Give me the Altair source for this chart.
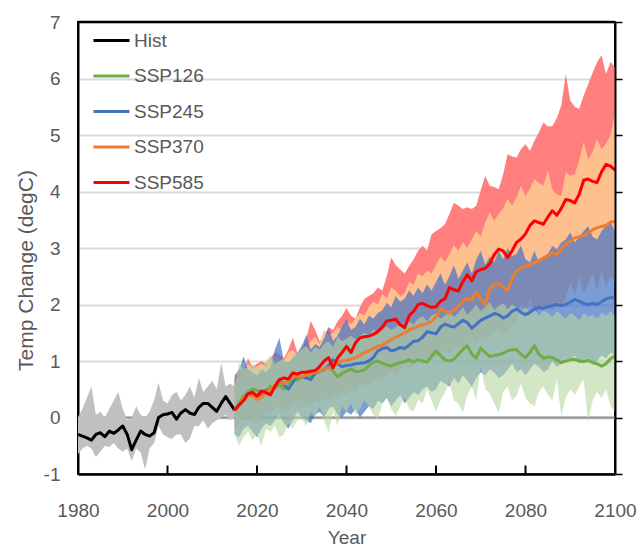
import altair as alt
import pandas as pd

# ---------------- data ----------------
hist_years = list(range(1980, 2016))
ssp_years = list(range(2015, 2101))

hist_mean = [-0.30, -0.33, -0.36, -0.40, -0.30, -0.27, -0.34, -0.24, -0.28, -0.22,
             -0.15, -0.30, -0.57, -0.40, -0.24, -0.30, -0.33, -0.27, 0.00, 0.05,
             0.06, 0.09, -0.03, 0.08, 0.14, 0.08, 0.05, 0.18, 0.25, 0.25,
             0.18, 0.11, 0.25, 0.37, 0.25, 0.13]
hist_hi = [0.00, 0.15, 0.35, 0.55, 0.05, 0.10, 0.00, 0.15, 0.30, 0.45,
           0.15, -0.05, 0.00, 0.20, 0.05, 0.00, 0.10, 0.30, 0.62, 0.30,
           0.25, 0.40, 0.45, 0.30, 0.40, 0.55, 0.35, 0.70, 0.45, 0.55,
           0.65, 0.50, 0.97, 0.55, 0.60, 0.55]
hist_lo = [-0.65, -0.55, -0.50, -0.55, -0.70, -0.60, -0.50, -0.52, -0.45, -0.55,
           -0.60, -0.55, -0.77, -0.55, -0.62, -0.92, -0.55, -0.45, -0.15, -0.30,
           -0.35, -0.38, -0.30, -0.30, -0.45, -0.37, -0.15, -0.15, -0.05, -0.20,
           -0.10, -0.05, 0.00, 0.05, -0.05, 0.00]

ssp126_mean = [0.13, 0.25, 0.38, 0.45, 0.50, 0.48, 0.44, 0.48, 0.55, 0.52,
               0.58, 0.50, 0.58, 0.70, 0.66, 0.72, 0.75, 0.72, 0.78, 0.82,
               0.85, 0.90, 0.82, 0.72, 0.78, 0.82, 0.86, 0.81, 0.82, 0.84,
               0.92, 0.98, 1.00, 0.96, 0.93, 0.91, 0.95, 0.97, 0.99, 1.02,
               0.98, 1.02, 1.00, 0.98, 1.08, 1.18, 1.10, 1.02, 1.00, 1.03,
               1.12, 1.20, 1.27, 1.12, 1.05, 1.23, 1.15, 1.08, 1.10, 1.11,
               1.14, 1.18, 1.20, 1.20, 1.12, 1.06, 1.15, 1.27, 1.12, 1.05,
               1.07, 1.06, 1.02, 0.97, 1.00, 1.02, 1.03, 1.00, 0.99, 1.01,
               0.97, 0.95, 0.91, 0.95, 1.04, 1.09]
ssp126_hi = [0.55, 0.97, 0.85, 0.90, 0.95, 0.90, 0.85, 1.00, 1.10, 0.95,
             1.00, 1.05, 0.95, 1.10, 1.15, 1.20, 1.27, 1.15, 1.25, 1.20,
             1.30, 1.35, 1.25, 1.44, 1.35, 1.40, 1.45, 1.38, 1.44, 1.50,
             1.45, 1.56, 1.50, 1.55, 1.62, 1.55, 1.60, 1.65, 1.58, 1.70,
             1.65, 1.75, 1.79, 1.70, 1.80, 1.85, 1.75, 1.80, 1.90, 1.78,
             1.85, 1.95, 1.82, 1.90, 2.00, 1.88, 1.95, 2.05, 1.90, 1.98,
             2.02, 1.92, 2.00, 1.95, 1.88, 1.95, 1.85, 1.92, 1.80, 1.90,
             1.85, 1.78, 1.88, 1.82, 1.75, 1.85, 1.80, 1.72, 1.85, 1.78,
             1.82, 1.75, 1.85, 1.80, 1.88, 1.80]
ssp126_lo = [-0.30, -0.50, -0.35, -0.25, -0.40, -0.30, -0.50, -0.20, -0.25, -0.15,
             -0.35, -0.30, -0.10, -0.20, -0.05, -0.02, -0.15, 0.10, 0.00, 0.20,
             -0.05, -0.27, 0.10, -0.15, 0.20, 0.10, 0.25, 0.05, 0.15, 0.30,
             0.20, 0.05, -0.04, 0.25, 0.35, 0.15, 0.03, 0.20, 0.35, 0.15,
             0.10, 0.32, 0.25, 0.50, 0.30, 0.11, 0.30, 0.45, 0.61, 0.30,
             0.25, 0.08, 0.40, 0.55, 0.30, 0.91, 0.50, 0.43, 0.25, 0.08,
             0.45, 0.55, 0.30, 0.38, 0.60, 0.35, 0.25, 0.20, 0.45, 0.55,
             0.40, 0.30, 0.68, 0.02, 0.35, 0.50, 0.40, 0.55, 0.68, -0.09,
             0.30, 0.45, 0.35, 0.50, 0.20, 0.10]

ssp245_mean = [0.13, 0.22, 0.35, 0.42, 0.45, 0.38, 0.40, 0.48, 0.47, 0.55,
               0.67, 0.58, 0.50, 0.62, 0.74, 0.72, 0.70, 0.67, 0.78, 0.82,
               0.85, 0.92, 1.02, 0.95, 0.90, 0.92, 0.93, 0.95, 0.96, 0.97,
               1.00, 1.06, 1.18, 1.22, 1.24, 1.18, 1.20, 1.24, 1.22, 1.28,
               1.35, 1.36, 1.42, 1.52, 1.50, 1.48, 1.60, 1.65, 1.62, 1.60,
               1.66, 1.72, 1.68, 1.58, 1.65, 1.72, 1.76, 1.80, 1.84, 1.82,
               1.76, 1.80, 1.88, 1.92, 1.86, 1.82, 1.86, 1.92, 1.95, 1.93,
               1.96, 1.98, 2.00, 1.98, 2.00, 2.04, 2.09, 2.06, 2.02, 2.00,
               2.02, 2.00, 2.05, 2.10, 2.12, 2.12]
ssp245_hi = [0.70, 0.85, 1.08, 0.85, 0.80, 0.75, 0.85, 0.80, 0.90, 1.20,
             1.41, 1.00, 0.97, 1.05, 1.15, 1.25, 1.47, 1.20, 1.30, 1.25,
             1.40, 1.59, 1.35, 1.45, 1.60, 1.74, 1.55, 1.60, 1.75, 1.65,
             1.80, 1.75, 1.85, 1.90, 2.03, 1.95, 2.15, 2.05, 2.10, 2.25,
             2.15, 2.30, 2.20, 2.36, 2.25, 2.40, 2.55, 2.35, 2.50, 2.70,
             2.45, 2.60, 2.75, 2.55, 2.80, 2.95, 2.70, 2.85, 2.75, 2.95,
             2.80, 3.00, 2.85, 2.90, 3.05, 2.80, 2.75, 2.95, 2.74, 2.85,
             2.90, 3.04, 2.98, 3.10, 3.15, 3.28, 3.10, 3.20, 3.30, 3.39,
             3.20, 3.15, 3.30, 3.40, 3.45, 3.30]
ssp245_lo = [-0.30, -0.35, -0.20, -0.15, -0.25, -0.35, -0.20, -0.10, -0.15, -0.05,
             0.05, -0.10, -0.20, -0.05, 0.10, 0.00, -0.05, -0.10, 0.05, 0.10,
             0.00, 0.15, 0.20, 0.05, 0.00, 0.10, 0.05, 0.15, 0.00, 0.10,
             0.20, 0.15, 0.30, 0.25, 0.35, 0.20, 0.30, 0.40, 0.25, 0.35,
             0.45, 0.40, 0.50, 0.55, 0.45, 0.50, 0.65, 0.60, 0.55, 0.70,
             0.60, 0.75, 0.65, 0.55, 0.70, 0.80, 0.75, 0.85, 0.80, 0.70,
             0.75, 0.85, 0.95, 0.80, 0.85, 0.75, 0.85, 0.95, 0.90, 0.80,
             0.85, 1.00, 0.90, 0.95, 1.05, 1.00, 1.10, 0.95, 1.00, 1.05,
             0.95, 1.00, 1.10, 1.05, 1.15, 1.10]

ssp370_mean = [0.13, 0.22, 0.35, 0.40, 0.38, 0.32, 0.36, 0.45, 0.48, 0.58,
               0.62, 0.60, 0.66, 0.70, 0.74, 0.72, 0.76, 0.78, 0.80, 0.82,
               0.86, 0.88, 0.92, 0.97, 1.00, 1.01, 1.03, 1.06, 1.10, 1.15,
               1.18, 1.22, 1.26, 1.28, 1.33, 1.38, 1.42, 1.46, 1.50, 1.55,
               1.58, 1.62, 1.64, 1.66, 1.70, 1.78, 1.92, 1.88, 1.84, 1.90,
               1.97, 2.05, 2.10, 2.08, 2.22, 2.10, 1.99, 2.28, 2.35, 2.38,
               2.30, 2.25, 2.45, 2.60, 2.64, 2.68, 2.70, 2.74, 2.78, 2.82,
               2.86, 2.92, 2.88, 2.98, 3.07, 3.12, 3.18, 3.20, 3.22, 3.26,
               3.32, 3.36, 3.38, 3.40, 3.46, 3.47]
ssp370_hi = [0.65, 0.75, 0.85, 0.95, 0.85, 0.90, 0.95, 0.90, 1.00, 1.10,
             1.05, 1.00, 1.15, 1.20, 1.10, 1.30, 1.25, 1.35, 1.43, 1.30,
             1.55, 1.45, 1.50, 1.60, 1.55, 1.70, 1.65, 1.75, 1.85, 1.80,
             1.96, 2.05, 2.00, 2.19, 2.10, 2.30, 2.25, 2.15, 2.20, 2.40,
             2.35, 2.55, 2.50, 2.60, 2.55, 2.70, 2.85, 2.75, 2.90, 3.05,
             2.95, 3.10, 3.00, 3.15, 3.30, 3.20, 3.45, 3.63, 3.48, 3.60,
             3.70, 3.87, 3.75, 3.90, 4.10, 3.92, 4.05, 4.22, 4.15, 4.10,
             4.37, 4.04, 3.95, 3.92, 4.34, 4.28, 4.30, 4.55, 4.87, 4.57,
             4.70, 4.93, 4.75, 4.85, 5.00, 5.40]
ssp370_lo = [-0.20, -0.10, 0.00, 0.05, -0.05, -0.10, 0.00, 0.10, 0.05, 0.15,
             0.20, 0.10, 0.15, 0.25, 0.20, 0.15, 0.25, 0.20, 0.30, 0.25,
             0.35, 0.30, 0.40, 0.35, 0.45, 0.40, 0.50, 0.45, 0.55, 0.60,
             0.55, 0.65, 0.70, 0.65, 0.75, 0.80, 0.75, 0.85, 0.90, 0.85,
             0.95, 1.00, 0.95, 1.05, 1.10, 1.05, 1.15, 1.20, 1.10, 1.20,
             1.25, 1.20, 1.30, 1.35, 1.30, 1.40, 1.35, 1.45, 1.50, 1.55,
             1.45, 1.55, 1.65, 1.70, 2.05, 1.80, 2.10, 1.85, 1.90, 1.95,
             2.00, 1.90, 2.05, 2.00, 2.10, 2.40, 2.15, 2.50, 2.20, 2.35,
             2.55, 2.25, 2.60, 2.30, 2.50, 2.40]

ssp585_mean = [0.13, 0.22, 0.30, 0.42, 0.44, 0.38, 0.47, 0.44, 0.40, 0.55,
               0.67, 0.70, 0.68, 0.79, 0.77, 0.80, 0.80, 0.82, 0.83, 0.90,
               1.00, 1.06, 0.88, 1.05, 1.15, 1.26, 1.15, 1.32, 1.41, 1.43,
               1.44, 1.47, 1.52, 1.60, 1.71, 1.72, 1.74, 1.64, 1.59, 1.80,
               1.88, 2.00, 2.02, 1.98, 1.95, 1.96, 2.06, 2.10, 2.30, 2.26,
               2.24, 2.40, 2.53, 2.42, 2.58, 2.62, 2.64, 2.72, 2.88, 2.98,
               2.95, 2.83, 2.95, 3.10, 3.16, 3.25, 3.40, 3.48, 3.45, 3.42,
               3.55, 3.66, 3.58, 3.70, 3.86, 3.84, 3.80, 3.95, 4.20, 4.22,
               4.18, 4.16, 4.35, 4.48, 4.45, 4.38]
ssp585_hi = [0.75, 0.85, 0.80, 1.05, 0.90, 0.95, 1.00, 0.95, 1.05, 1.15,
             1.10, 1.05, 1.20, 1.41, 1.15, 1.20, 1.40, 1.71, 1.55, 1.35,
             1.45, 1.60, 1.55, 1.70, 1.80, 1.94, 1.80, 1.75, 1.95, 2.10,
             2.15, 2.20, 2.30, 2.25, 2.50, 2.83, 2.70, 2.62, 2.55, 2.68,
             2.80, 2.95, 3.04, 2.95, 3.24, 3.30, 3.35, 3.42, 3.60, 3.80,
             3.75, 3.69, 3.72, 3.69, 3.75, 4.02, 4.28, 4.10, 4.08, 4.04,
             4.30, 4.66, 4.62, 4.60, 4.75, 4.84, 4.72, 4.90, 5.05, 5.22,
             5.15, 5.16, 5.30, 5.52, 6.08, 5.61, 5.50, 5.46, 5.70, 5.90,
             6.10, 6.29, 6.41, 6.08, 6.29, 6.20]
ssp585_lo = [-0.10, 0.00, 0.05, 0.15, 0.10, 0.05, 0.10, 0.15, 0.10, 0.20,
             0.30, 0.25, 0.30, 0.35, 0.30, 0.35, 0.40, 0.35, 0.45, 0.40,
             0.50, 0.55, 0.50, 0.55, 0.65, 0.70, 0.65, 0.75, 0.80, 0.85,
             0.85, 0.90, 0.95, 1.00, 1.10, 1.15, 1.10, 1.05, 1.00, 1.20,
             1.25, 1.35, 1.40, 1.35, 1.30, 1.35, 1.45, 1.50, 1.65, 1.60,
             1.60, 1.75, 1.85, 1.80, 1.90, 1.95, 1.95, 2.05, 2.20, 2.30,
             2.25, 2.15, 2.25, 2.40, 2.45, 2.55, 2.70, 2.75, 2.75, 2.70,
             2.85, 2.95, 2.85, 3.00, 3.15, 3.10, 3.10, 3.25, 3.45, 3.50,
             3.45, 3.40, 3.60, 3.75, 3.70, 3.65]

series_names = ["Hist", "SSP126", "SSP245", "SSP370", "SSP585"]
line_colors = ["#000000", "#70ad47", "#4472c4", "#ed7d31", "#ff0000"]

x_ticks = [1980, 2000, 2020, 2040, 2060, 2080, 2100]
y_ticks = [-1, 0, 1, 2, 3, 4, 5, 6, 7]
zero_line = [0]
x_range = [1980, 2100]
y_range = [-1, 7]
tick_base = -1.0
tick_top = -0.85

# ---------------- styling ----------------
FONT = "Liberation Sans"
TXT = "#595959"

x_scale = alt.Scale(domain=x_range, nice=False, zero=False)
y_scale = alt.Scale(domain=y_range, nice=False, zero=False)

x_axis = alt.Axis(orient="bottom", values=x_ticks, labelExpr="'' + datum.value",
                  title="Year", ticks=False, grid=False, domainColor="black",
                  domainWidth=2.5, labelFlush=False, labelOverlap=False,
                  labelFont=FONT, labelFontSize=19, labelColor=TXT, labelPadding=27,
                  titleFont=FONT, titleFontSize=19, titleColor=TXT,
                  titleFontWeight="normal", titlePadding=8, zindex=1)
left_axis = alt.Axis(orient="left", values=y_ticks, labelExpr="'' + datum.value",
                     title="Temp Change (degC)", ticks=False, grid=True,
                     gridColor="#d9d9d9", gridWidth=2, domainColor="black", domainWidth=2,
                     labelFlush=False,
                     labelFont=FONT, labelFontSize=19, labelColor=TXT, labelPadding=18,
                     titleFont=FONT, titleFontSize=21, titleColor=TXT,
                     titleFontWeight="normal", titlePadding=7, titleY=248, zindex=0)
right_axis = alt.Axis(orient="right", values=y_ticks, labels=False, ticks=True,
                      tickSize=7, tickColor="black", tickWidth=1.5, grid=False,
                      domainColor="black", domainWidth=2, title="", zindex=1)


def xenc(field, axis=None):
    return alt.X(field, type="quantitative", scale=x_scale, axis=axis)


# ---------------- layers ----------------
zero_df = pd.DataFrame({"v": zero_line})
zero_layer = alt.Chart(zero_df).mark_rule(color="#8c8c8c", strokeWidth=2).encode(
    y=alt.Y("v:Q", scale=y_scale, axis=left_axis)
)


def band(years, lo, hi, color, opacity):
    df = pd.DataFrame({"year": years, "lo": lo, "hi": hi})
    return alt.Chart(df).mark_area(color=color, opacity=opacity).encode(
        x=xenc("year"),
        y=alt.Y("lo:Q", scale=y_scale, axis=None),
        y2="hi:Q",
    )


hist_band = band(hist_years, hist_lo, hist_hi, "#c0c0c0", 1.0)
red_band = band(ssp_years, ssp585_lo, ssp585_hi, "#ff7f7f", 1.0)
orange_band = band(ssp_years, ssp370_lo, ssp370_hi, "#ffc090", 1.0)
blue_band = band(ssp_years, ssp245_lo, ssp245_hi, "#4472c4", 0.7)
green_band = band(ssp_years, ssp126_lo, ssp126_hi, "#b5d6a0", 0.6)

line_frames = [
    pd.DataFrame({"series": "Hist", "year": hist_years, "value": hist_mean}),
    pd.DataFrame({"series": "SSP126", "year": ssp_years, "value": ssp126_mean}),
    pd.DataFrame({"series": "SSP245", "year": ssp_years, "value": ssp245_mean}),
    pd.DataFrame({"series": "SSP370", "year": ssp_years, "value": ssp370_mean}),
    pd.DataFrame({"series": "SSP585", "year": ssp_years, "value": ssp585_mean}),
]
lines_df = pd.concat(line_frames, ignore_index=True)

lines = alt.Chart(lines_df).mark_line(strokeWidth=3, strokeJoin="round").encode(
    x=xenc("year"),
    y=alt.Y("value:Q", scale=y_scale, axis=None),
    color=alt.Color(
        "series:N",
        scale=alt.Scale(domain=series_names, range=line_colors),
        legend=alt.Legend(orient="none", legendX=14, legendY=-1, direction="vertical",
                          title=None, symbolType="stroke", symbolSize=1296,
                          symbolStrokeWidth=3, labelFont=FONT, labelFontSize=19,
                          labelColor=TXT, labelOffset=3, rowPadding=5.5, padding=0),
    ),
)

top_df = pd.DataFrame({"x0": [x_range[0]], "x1": [x_range[1]], "v": [y_range[1]]})
top_layer = alt.Chart(top_df).mark_rule(color="black", strokeWidth=2.5).encode(
    x=xenc("x0"),
    x2="x1:Q",
    y=alt.Y("v:Q", scale=y_scale, axis=None),
)

tick_df = pd.DataFrame({"year": x_ticks, "ylo": [tick_base] * len(x_ticks),
                        "yhi": [tick_top] * len(x_ticks)})
tick_layer = alt.Chart(tick_df).mark_rule(color="black", strokeWidth=2).encode(
    x=xenc("year", x_axis),
    y=alt.Y("ylo:Q", scale=y_scale, axis=right_axis),
    y2="yhi:Q",
)

chart = alt.layer(
    zero_layer, hist_band, red_band, orange_band, blue_band, green_band, lines,
    top_layer, tick_layer
).resolve_scale(x="shared", y="shared").resolve_axis(
    x="independent", y="independent"
).properties(
    width=537, height=452,
    padding={"left": 78, "top": 22, "right": 23, "bottom": 77},
    autosize=alt.AutoSizeParams(type="none"),
    background="white",
).configure_view(stroke="black", strokeWidth=2)

chart.save("out.html", embed_options={"renderer": "svg", "actions": False})
